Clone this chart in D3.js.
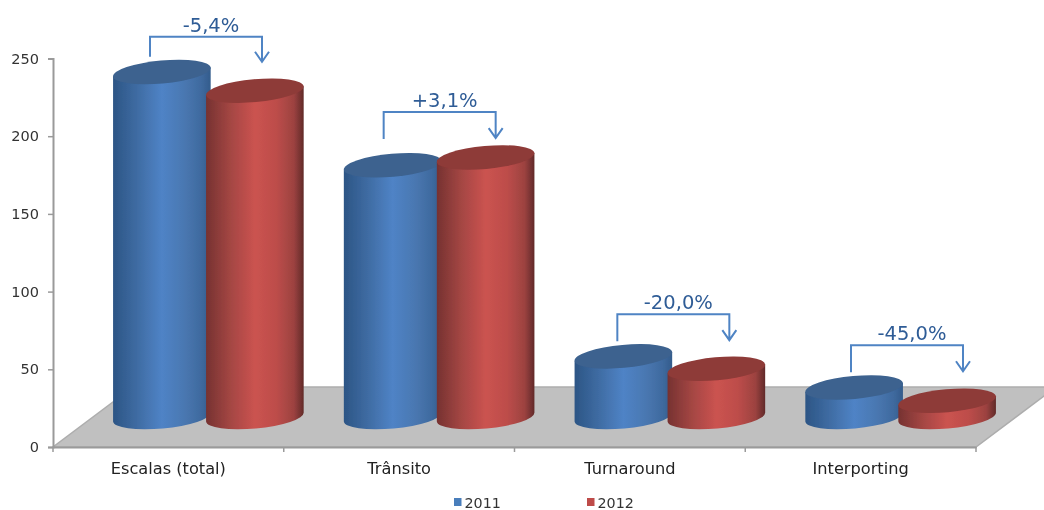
<!DOCTYPE html>
<html><head><meta charset="utf-8">
<style>html,body{margin:0;padding:0;background:#fff}svg{display:block}
text{font-family:"DejaVu Sans",Verdana,sans-serif}</style>
<script src="https://cdn.jsdelivr.net/npm/d3@7"></script></head>
<body><svg id="c" width="1044" height="510"></svg>
<script>
const categories = ["Escalas (total)", "Trânsito", "Turnaround", "Interporting"];
const seriesNames = ["2011", "2012"];
const values2011 = [222, 162, 39, 19];
const values2012 = [210, 167, 31, 10.5];
const changeLabels = ["-5,4%", "+3,1%", "-20,0%", "-45,0%"];
const bracketLevels = [264, 215.5, 85.5, 65.5];
const yTicks = [0, 50, 100, 150, 200, 250];

const W = 1044, H = 510;
const svg = d3.select("#c");
const y = d3.scaleLinear().domain([0, 250]).range([447, 58.5]);
const x0 = d3.scaleBand().domain(categories).range([53, 976]);
const x1 = d3.scaleBand().domain(seriesNames).range([0, 186]);
const xBracket = d3.scalePoint().domain(categories).range([150, 851]);
const depthX = 40, depthY = 30, backY = 387;
const rx = 49, ry = 11.5, tilt = -5.2, rad = tilt * Math.PI / 180;
const pal = {
  "2011": {stops: ["#2c5585", "#3f6ca3", "#4f83c6", "#4a78b2", "#3f6a9f", "#335c8c"], top: "#3c628f", legend: "#4a7ebb"},
  "2012": {stops: ["#763231", "#a44643", "#cb5350", "#bd4d4a", "#9c4240", "#612a29"], top: "#8e3a38", legend: "#be4b48"}
};

const root = svg.append("g").attr("filter", "url(#soft)");
const defs = svg.append("defs");
defs.append("filter").attr("id", "soft").attr("x", 0).attr("y", 0).attr("width", 1).attr("height", 1)
  .attr("filterUnits", "objectBoundingBox")
  .append("feGaussianBlur").attr("stdDeviation", 0.45);
seriesNames.forEach(s => {
  const g = defs.append("linearGradient").attr("id", "g" + s).attr("x1", 0).attr("x2", 1).attr("y1", 0).attr("y2", 0);
  [0, .25, .5, .72, .9, 1].forEach((o, i) => g.append("stop").attr("offset", o).attr("stop-color", pal[s].stops[i]));
});
root.append("rect").attr("width", W).attr("height", H).attr("fill", "#fff");

// floor
const slope = (447 - backY) / 80;
root.append("path")
  .attr("d", `M53,447L${53 + (447 - backY) / slope},${backY}L${976 + (447 - backY) / slope},${backY}L976,447Z`)
  .attr("fill", "#c0c0c0");
root.append("path")
  .attr("d", `M${53 + 80},${backY}L1056,${backY}L976,447L53,447Z`)
  .attr("fill", "none").attr("stroke", "#adadad").attr("stroke-width", 1.5);

// axes
const yAxis = root.append("g").attr("transform", "translate(53,0)")
  .call(d3.axisLeft(y).tickValues(yTicks).tickSize(5).tickPadding(9));
const xAxis = root.append("g").attr("transform", "translate(0,447)")
  .call(d3.axisBottom(x0).tickSize(0).tickPadding(15));
xAxis.selectAll("text").attr("font-size", 16.2).attr("fill", "#222");
yAxis.selectAll("text").attr("font-size", 14.5).attr("fill", "#333");
root.selectAll(".domain").attr("stroke", "#9a9a9a").attr("stroke-width", 2);
yAxis.selectAll("line").attr("stroke", "#9a9a9a").attr("stroke-width", 1.5);
root.append("g").selectAll("line")
  .data(d3.range(categories.length + 1)).join("line")
  .attr("x1", i => 53 + i * x0.bandwidth()).attr("x2", i => 53 + i * x0.bandwidth())
  .attr("y1", 447).attr("y2", 452).attr("stroke", "#9a9a9a").attr("stroke-width", 1.5);

// cylinders
const dx = rx * Math.cos(rad), dyy = rx * Math.sin(rad);
function cyl(cx, v, s) {
  const yb = y(0) - depthY, yt = y(v) - depthY;
  const g = root.append("g");
  g.append("path").attr("fill", `url(#g${s})`)
    .attr("d", `M${cx - dx},${yt - dyy}L${cx + dx},${yt + dyy}L${cx + dx},${yb + dyy}` +
      `A${rx},${ry} ${tilt} 0 1 ${cx - dx},${yb - dyy}Z`);
  g.append("ellipse").attr("cx", 0).attr("cy", 0).attr("rx", rx).attr("ry", ry)
    .attr("transform", `translate(${cx},${yt}) rotate(${tilt})`)
    .attr("fill", pal[s].top);
}
categories.forEach((c, i) => {
  const base = x0(c) + depthX + x0.bandwidth() / 2 - 93;
  cyl(base + x1("2011") + x1.bandwidth() / 2, values2011[i], "2011");
  cyl(base + x1("2012") + x1.bandwidth() / 2, values2012[i], "2012");
});

// change annotations
const blue = "#4f84c4", txt = "#2f5c96";
categories.forEach((c, i) => {
  const l = xBracket(c), r = l + 112, t = y(bracketLevels[i]);
  const bot = t + (i === 0 ? 25 : 26);
  root.append("path").attr("fill", "none").attr("stroke", blue).attr("stroke-width", 2)
    .attr("d", `M${l},${t + (i === 0 ? 20 : 27)}V${t}H${r}V${bot}M${r - 7},${bot - 10}L${r},${bot}L${r + 7},${bot - 10}`);
  root.append("text").attr("x", (l + r) / 2 + 5).attr("y", t - 5).attr("text-anchor", "middle")
    .attr("font-size", 19.5).attr("fill", txt).text(changeLabels[i]);
});

// legend
const legendX = d3.scaleOrdinal().domain(seriesNames).range([454, 587]);
seriesNames.forEach(s => {
  root.append("rect").attr("x", legendX(s)).attr("y", 498).attr("width", 7.5).attr("height", 8).attr("fill", pal[s].legend);
  root.append("text").attr("x", legendX(s) + 10.5).attr("y", 508).attr("font-size", 14.3).attr("fill", "#333").text(s);
});
</script></body></html>
